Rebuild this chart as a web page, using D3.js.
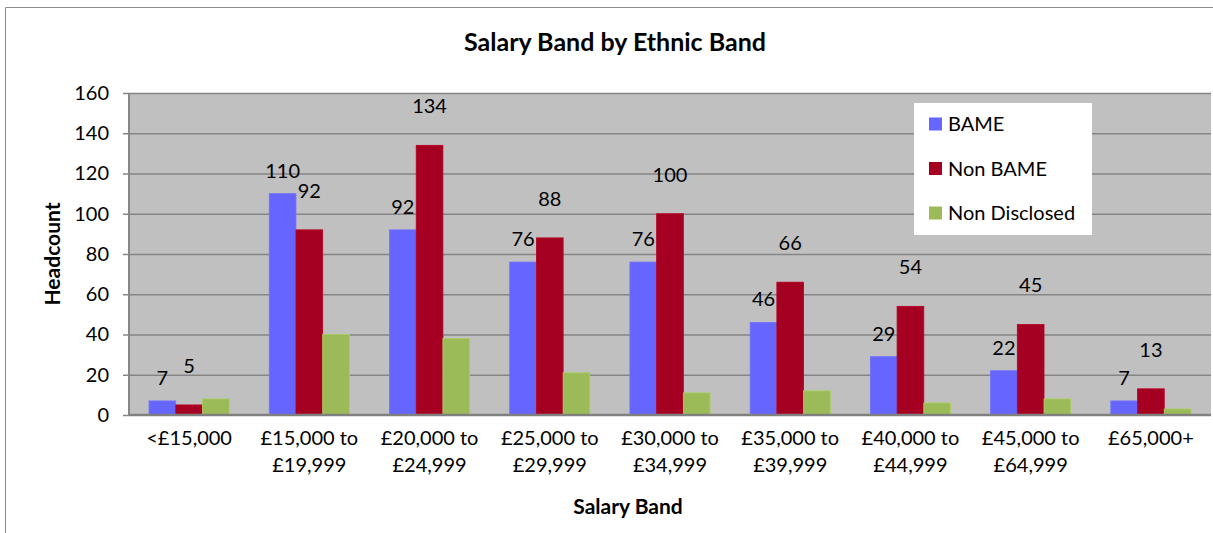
<!DOCTYPE html>
<html>
<head>
<meta charset="utf-8">
<script src="https://cdn.jsdelivr.net/npm/d3@7"></script>
<style>
  body { margin: 0; background: #fff; }
  svg { display: block; font-family: Lato, "Open Sans", sans-serif; }
</style>
</head>
<body>
<script>
// values
var categories = ["<£15,000", "£15,000 to £19,999", "£20,000 to £24,999", "£25,000 to £29,999",
  "£30,000 to £34,999", "£35,000 to £39,999", "£40,000 to £44,999", "£45,000 to £64,999", "£65,000+"];
var seriesNames = ["BAME", "Non BAME", "Non Disclosed"];
var bame         = [7, 110, 92, 76, 76, 46, 29, 22, 7];
var nonBame      = [5, 92, 134, 88, 100, 66, 54, 45, 13];
var nonDisclosed = [8, 40, 38, 21, 11, 12, 6, 8, 3];
var yTicks = [0, 20, 40, 60, 80, 100, 120, 140, 160];

var colors = ["#6666FF", "#A50021", "#9BBB59"];
var labelLift = [23, 39, null]; // green series has no labels

var W = 1213, H = 533;
var plot = {left: 129, right: 1211, top: 93, bottom: 415};

var svg = d3.select('body').append('svg')
  .attr('width', W)
  .attr('height', H);

// outer chart border (only the top and left edges are in frame)
svg.append('path')
  .attr('d', 'M5.5,' + H + 'V7.5H' + W)
  .attr('fill', 'none')
  .attr('stroke', '#8c8c8c')
  .attr('stroke-width', 1);

var x = d3.scaleBand()
  .domain(categories)
  .range([plot.left, plot.right])
  .paddingInner(1/3)
  .paddingOuter(1/6);

var xs = d3.scaleBand()
  .domain(seriesNames)
  .range([0, x.bandwidth()]);

var y = d3.scaleLinear()
  .domain([0, 160])
  .range([plot.bottom, plot.top]);

// plot background
svg.append('rect')
  .attr('x', plot.left)
  .attr('y', plot.top)
  .attr('width', plot.right - plot.left)
  .attr('height', plot.bottom - plot.top)
  .attr('fill', '#C0C0C0');

// gridlines
svg.append('g')
  .attr('transform', 'translate(' + plot.left + ',0)')
  .call(d3.axisLeft(y).tickValues(yTicks.slice(1)).tickSize(-(plot.right - plot.left)).tickFormat(''))
  .call(function(g){
    g.select('.domain').remove();
    g.selectAll('line').attr('stroke', '#858585').attr('stroke-width', 1.5);
  });

var series = [bame, nonBame, nonDisclosed];
var rows = [];
series.forEach(function(vals, s){
  vals.forEach(function(v, i){
    rows.push({cat: categories[i], name: seriesNames[s], s: s, value: v});
  });
});

svg.append('g').selectAll('rect')
  .data(rows)
  .enter()
  .append('rect')
    .attr('x', function(d){ return x(d.cat) + xs(d.name); })
    .attr('y', function(d){ return y(d.value); })
    .attr('width', xs.bandwidth())
    .attr('height', function(d){ return y(0) - y(d.value); })
    .attr('fill', function(d){ return colors[d.s]; })
    .attr('stroke', function(d){ return d3.color(colors[d.s]).brighter(0.3); })
    .attr('stroke-width', 0.8);

// data labels (BAME and Non BAME only)
svg.append('g').selectAll('text')
  .data(rows.filter(function(d){ return labelLift[d.s] != null; }))
  .enter()
  .append('text')
    .attr('x', function(d){ return x(d.cat) + xs(d.name) + xs.bandwidth() / 2; })
    .attr('y', function(d){ return y(d.value) - labelLift[d.s]; })
    .attr('dy', '0.35em')
    .attr('text-anchor', 'middle')
    .attr('font-size', 20)
    .attr('fill', '#000')
    .text(function(d){ return d.value; });

// y axis
var yAxis = svg.append('g')
  .attr('transform', 'translate(' + plot.left + ',0)')
  .call(d3.axisLeft(y).tickValues(yTicks).tickSize(6).tickPadding(14));
yAxis.select('.domain').attr('stroke', '#868686').attr('stroke-width', 2).attr('d', 'M0,' + plot.top + 'V' + plot.bottom);
yAxis.selectAll('line').attr('stroke', '#868686').attr('stroke-width', 1.5);
yAxis.selectAll('text').attr('font-size', 20).attr('fill', '#000').attr('font-family', 'Lato, sans-serif');

// x axis
var xAxis = svg.append('g')
  .attr('transform', 'translate(0,' + plot.bottom + ')')
  .call(d3.axisBottom(x).tickSize(0).tickFormat(''));
xAxis.select('.domain').attr('stroke', '#808080').attr('stroke-width', 2.5).attr('d', 'M' + plot.left + ',0H' + plot.right);

var xl = svg.append('g').selectAll('text')
  .data(categories)
  .enter()
  .append('text')
    .attr('x', function(d){ return x(d) + x.bandwidth() / 2; })
    .attr('y', 445)
    .attr('dy', '0.35em')
    .attr('text-anchor', 'middle')
    .attr('font-size', 20)
    .attr('fill', '#000');
xl.each(function(d){
  var m = d.match(/^(.* to) (.*)$/);
  var lines = m ? [m[1], m[2]] : [d];
  d3.select(this).selectAll('tspan')
    .data(lines)
    .enter()
    .append('tspan')
      .attr('x', x(d) + x.bandwidth() / 2)
      .attr('dy', function(l, i){ return i ? 27 : 0; })
      .text(function(l){ return l; });
});

// titles
svg.append('text')
  .attr('x', 615).attr('y', 42).attr('dy', '0.35em')
  .attr('text-anchor', 'middle')
  .attr('font-size', 25).attr('font-weight', 'bold')
  .text('Salary Band by Ethnic Band');

svg.append('text')
  .attr('x', 628).attr('y', 507).attr('dy', '0.35em')
  .attr('text-anchor', 'middle')
  .attr('font-size', 21).attr('font-weight', 'bold')
  .text('Salary Band');

svg.append('text')
  .attr('transform', 'translate(53,254) rotate(-90)')
  .attr('dy', '0.35em')
  .attr('text-anchor', 'middle')
  .attr('font-size', 21).attr('font-weight', 'bold')
  .text('Headcount');

// legend
var lg = svg.append('g').attr('transform', 'translate(914,103)');
lg.append('rect')
  .attr('width', 178).attr('height', 132)
  .attr('fill', '#fff');
var items = lg.selectAll('g.item')
  .data(seriesNames)
  .enter()
  .append('g')
    .attr('class', 'item')
    .attr('transform', function(d, i){ return 'translate(15,' + (21 + i * 44.5) + ')'; });
items.append('rect')
  .attr('y', -6.5).attr('width', 13).attr('height', 13)
  .attr('fill', function(d, i){ return colors[i]; });
items.append('text')
  .attr('x', 19).attr('dy', '0.35em')
  .attr('font-size', 20)
  .text(function(d){ return d; });
</script>
</body>
</html>
